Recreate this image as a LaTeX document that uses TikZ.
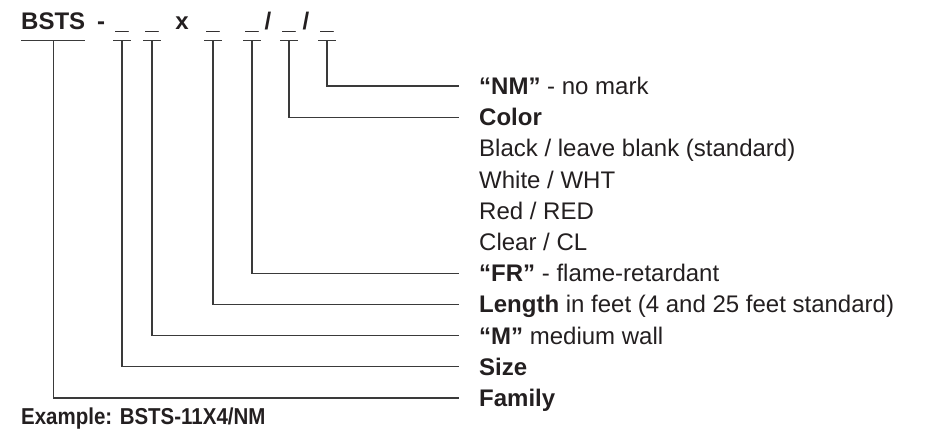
\documentclass[tikz,border=0pt]{standalone}
\usepackage{fontspec}
\setmainfont{Liberation Sans}
\usepackage{graphicx}
\usepackage{xcolor}
\definecolor{codeInk}{HTML}{231F20}
\definecolor{codeLine}{HTML}{3A3A3A}
\usetikzlibrary{positioning}

\begin{document}
\begin{tikzpicture}[x=1pt, y=-1pt,
  every node/.style={inner sep=0pt, text=codeInk, font=\fontsize{24}{29}\selectfont},
  slot/.style={font=\fontsize{24}{29}\selectfont\bfseries, anchor=base, minimum width=17pt, text depth=11pt},
  entry/.style={anchor=west, text height=17pt, text depth=0pt},
  lead/.style={codeLine, line width=1.1pt}]
  \useasboundingbox (0,0) rectangle (930,440);
  % Part number
  \node[slot, anchor=base west, minimum width=0pt] (fam) at (21,29) {BSTS};
  \node[slot] (dash) at (101,29) {-};
  \node[slot] (u1) at (122,29) {\_};
  \node[slot] (u2) at (152,29) {\_};
  \node[slot] (times) at (182,29) {x};
  \node[slot] (u3) at (213,29) {\_};
  \node[slot] (u4) at (252,29) {\_};
  \node[slot, minimum width=0pt] (slashA) at (268,29) {/};
  \node[slot] (u5) at (289,29) {\_};
  \node[slot, minimum width=0pt] (slashB) at (306,29) {/};
  \node[slot] (u6) at (327,29) {\_};
  % Option list
  \foreach \txt [count=\i from 0] in {
      {\textbf{“NM”} - no mark},
      {\textbf{Color}},
      {Black / leave blank (standard)},
      {White / WHT},
      {Red / RED},
      {Clear / CL},
      {\textbf{“FR”} - flame-retardant},
      {\textbf{Length} in feet (4 and 25 feet standard)},
      {\textbf{“M”} medium wall},
      {\textbf{Size}},
      {\textbf{Family}}} {
    \node[entry] (l\i) at (479,{86+31.2*\i}) {\txt};
  }
  % Leaders
  \foreach \u/\l in {u6/0, u5/1, u4/6, u3/7, u2/8, u1/9, fam/10} {
    \draw[lead] (\u.south west) -- (\u.south east);
    \draw[lead] (\u.south) |- ([xshift=-20pt]l\l.west);
  }
  % Example
  \node[anchor=base west, font=\fontsize{23}{28}\selectfont\bfseries] (example) at (21,424) {\scalebox{0.89}[1]{Example: BSTS-11X4/NM}};
\end{tikzpicture}
\end{document}
